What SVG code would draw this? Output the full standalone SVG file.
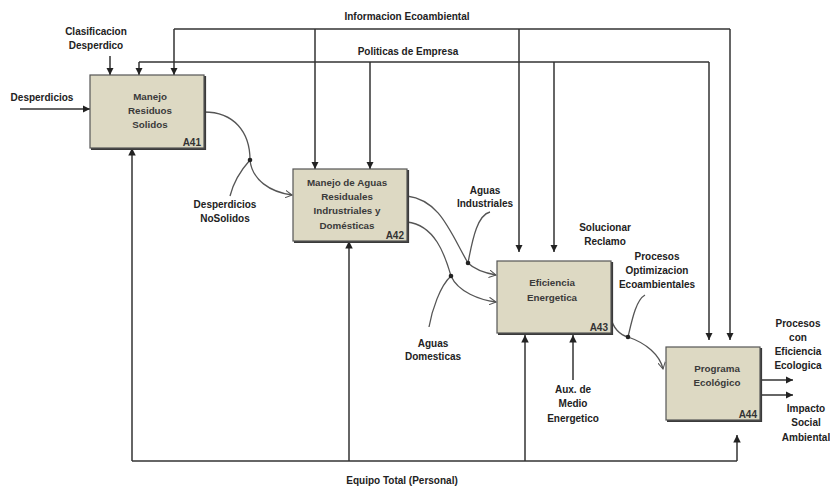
<svg xmlns="http://www.w3.org/2000/svg" width="830" height="487" viewBox="0 0 830 487">
  <style>
    text { font-family: "Liberation Sans", Arial, sans-serif; font-weight: bold; font-size: 10px; fill: #222; text-anchor: middle; }
    .lbl { font-size: 9.8px; fill: #3a3a3a; }
    .code { text-anchor: end; font-size: 10px; fill: #333; }
    .box { fill: #ddd9c3; stroke: #555; stroke-width: 1.2; }
    .shadow { fill: none; stroke: #3a3a3a; stroke-width: 2.2; }
    .ln { fill: none; stroke: #333; stroke-width: 1.5; }
    .arr { fill: none; stroke: #333; stroke-width: 1.5; marker-end: url(#tri); }
    .crv { fill: none; stroke: #555; stroke-width: 1.3; }
    .crva { fill: none; stroke: #555; stroke-width: 1.3; marker-end: url(#open); }
    .dot { fill: #222; }
  </style>
  <defs>
    <marker id="tri" viewBox="0 0 10 10" refX="10" refY="5" markerWidth="5" markerHeight="5" orient="auto" markerUnits="strokeWidth">
      <path d="M0,0 L10,5 L0,10 z" fill="#222"/>
    </marker>
    <marker id="open" viewBox="0 0 10 10" refX="9" refY="5" markerWidth="6" markerHeight="6" orient="auto" markerUnits="strokeWidth">
      <path d="M0,0 L9,5 L0,10" fill="none" stroke="#555" stroke-width="1.3"/>
    </marker>
  </defs>

  <!-- connectors -->
  <g id="connectors">
    <!-- Informacion Ecoambiental -->
    <path class="ln" d="M174,29 H730"/>
    <path class="arr" d="M174,29 V75"/>
    <path class="arr" d="M315,29 V169"/>
    <path class="arr" d="M519,29 V252"/>
    <path class="arr" d="M730,29 V340"/>
    <!-- Politicas de Empresa -->
    <path class="ln" d="M139,62 H709"/>
    <path class="arr" d="M139,62 V75"/>
    <path class="arr" d="M370,62 V169"/>
    <path class="arr" d="M554,62 V252"/>
    <path class="arr" d="M709,62 V340"/>
    <!-- Clasificacion Desperdico -->
    <path class="arr" d="M110,56 V75"/>
    <!-- Desperdicios -->
    <path class="arr" d="M20,109 H90"/>
    <!-- Equipo Total (Personal) -->
    <path class="ln" d="M132,461 H737"/>
    <path class="arr" d="M132,461 V148"/>
    <path class="arr" d="M349,461 V241"/>
    <path class="arr" d="M525,461 V335"/>
    <path class="arr" d="M737,461 V435"/>
    <!-- Aux. de Medio Energetico -->
    <path class="arr" d="M573,380 V335"/>
    <!-- outputs of A44 -->
    <path class="arr" d="M760,380 H793"/>
    <path class="arr" d="M760,395 H793"/>

    <!-- Desperdicios NoSolidos -->
    <path class="crva" d="M204,112 C234,112 250,132 250,160 C252,180 270,192 292,195"/>
    <path class="crv" d="M250,160 C241,170 233,184 230,196"/>
    <circle class="dot" cx="250" cy="160" r="2.3"/>
    <!-- Aguas Industriales -->
    <path class="crva" d="M407,196 C440,200 450,232 468,263 C475,270 485,273 496,275"/>
    <path class="crv" d="M468,263 C473,236 478,215 490,212"/>
    <circle class="dot" cx="468" cy="263" r="2.3"/>
    <!-- Aguas Domesticas -->
    <path class="crva" d="M407,222 C435,225 445,255 451,276 C458,292 480,300 496,302"/>
    <path class="crv" d="M451,276 C440,286 432,310 429,327"/>
    <circle class="dot" cx="451" cy="276" r="2.3"/>
    <!-- Procesos Optimizacion Ecoambientales -->
    <path class="crva" d="M611,318 C613,328 620,335 628,337 C646,343 660,355 663,369"/>
    <path class="crv" d="M628,337 C632,320 636,300 645,295"/>
    <circle class="dot" cx="628" cy="337" r="2.3"/>
  </g>

  <!-- free labels -->
  <g id="labels">
    <text x="407" y="19.5">Informacion Ecoambiental</text>
    <text x="408" y="54.5">Politicas de Empresa</text>
    <text x="96" y="34.5">Clasificacion</text>
    <text x="96" y="48.5">Desperdico</text>
    <text x="42" y="100.5">Desperdicios</text>
    <text x="225" y="207.5">Desperdicios</text>
    <text x="225" y="221.5">NoSolidos</text>
    <text x="485" y="193.5">Aguas</text>
    <text x="485" y="207">Industriales</text>
    <text x="433" y="346.5">Aguas</text>
    <text x="433" y="359.5">Domesticas</text>
    <text x="605" y="230.5">Solucionar</text>
    <text x="605" y="244.5">Reclamo</text>
    <text x="657" y="259.5">Procesos</text>
    <text x="657" y="273.5">Optimizacion</text>
    <text x="657" y="287.5">Ecoambientales</text>
    <text x="573" y="392.5">Aux. de</text>
    <text x="573" y="406.5">Medio</text>
    <text x="573" y="421.5">Energetico</text>
    <text x="798" y="326.5">Procesos</text>
    <text x="798" y="340.5">con</text>
    <text x="798" y="354.5">Eficiencia</text>
    <text x="798" y="368.5">Ecologica</text>
    <text x="806" y="411.5">Impacto</text>
    <text x="806" y="425.5">Social</text>
    <text x="806" y="440.5">Ambiental</text>
    <text x="402" y="484">Equipo Total (Personal)</text>
  </g>

  <g id="A41">
    <path class="shadow" d="M205,76 V149 H91"/>
    <rect class="box" x="90" y="75" width="114" height="73"/>
    <text class="lbl" x="150" y="99.5">Manejo</text>
    <text class="lbl" x="150" y="113.5">Residuos</text>
    <text class="lbl" x="150" y="127.5">Solidos</text>
    <text class="code" x="201" y="146">A41</text>
  </g>

  <g id="A42">
    <path class="shadow" d="M408,170 V242 H294"/>
    <rect class="box" x="293" y="169" width="114" height="72"/>
    <text class="lbl" x="347" y="186">Manejo de Aguas</text>
    <text class="lbl" x="347" y="200">Residuales</text>
    <text class="lbl" x="347" y="214">Indrustriales y</text>
    <text class="lbl" x="347" y="228.5">Domésticas</text>
    <text class="code" x="404" y="238.5">A42</text>
  </g>

  <g id="A43">
    <path class="shadow" d="M612,262 V334 H498"/>
    <rect class="box" x="497" y="261" width="114" height="72"/>
    <text class="lbl" x="552" y="285.5">Eficiencia</text>
    <text class="lbl" x="552" y="300.5">Energetica</text>
    <text class="code" x="608" y="331">A43</text>
  </g>

  <g id="A44">
    <path class="shadow" d="M761,348 V421 H667"/>
    <rect class="box" x="666" y="347" width="94" height="73"/>
    <text class="lbl" x="717" y="371.5">Programa</text>
    <text class="lbl" x="717" y="385.5">Ecológico</text>
    <text class="code" x="757" y="418">A44</text>
  </g>
</svg>
